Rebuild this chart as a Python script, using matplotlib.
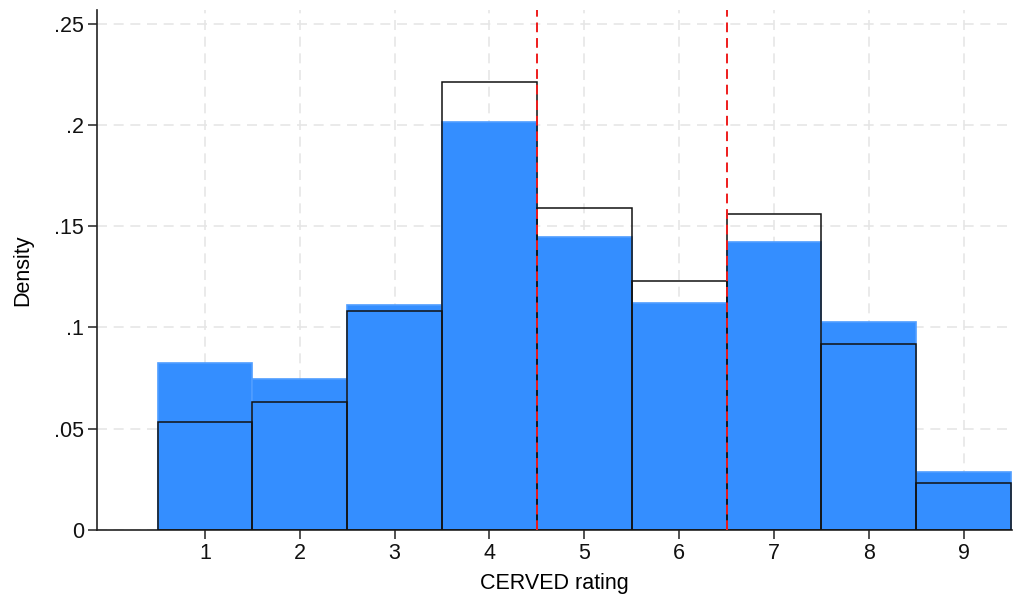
import matplotlib.pyplot as plt
import numpy as np

plt.rcParams["font.family"] = ["Liberation Sans", "DejaVu Sans"]

# --- data ---
ratings = [1, 2, 3, 4, 5, 6, 7, 8, 9]
density_all = [0.0823, 0.0744, 0.1111, 0.2015, 0.1447, 0.1119, 0.1422, 0.1026, 0.0288]
density_sub = [0.0532, 0.0632, 0.1083, 0.2211, 0.1589, 0.1228, 0.1560, 0.0917, 0.0231]
cutoffs = [4.5, 6.5]
yticks = [0, 0.05, 0.1, 0.15, 0.2, 0.25]
ytick_labels = ["0", ".05", ".1", ".15", ".2", ".25"]

# --- figure ---
fig = plt.figure(figsize=(10.15, 6), dpi=100)
ax = fig.add_axes([97 / 1015, 70 / 600, (1012 - 97) / 1015, (530 - 9.5) / 600])

x = np.array(ratings)
ax.bar(x, density_all, width=1.0, color="#348eff", edgecolor="#4f9dff",
       linewidth=1.2, zorder=2)
ax.bar(x, density_sub, width=1.0, facecolor="none", edgecolor="#111111",
       linewidth=1.1, zorder=3)

for c in cutoffs:
    ax.axvline(c, color="#ee1c1c", linestyle=(0, (5, 3)), linewidth=1.4, zorder=4)

ax.set_xlim(-0.138, 9.51)
ax.set_ylim(0, 0.257)
ax.set_xticks(ratings)
ax.set_yticks(yticks)
ax.set_yticklabels(ytick_labels)

ax.grid(True, color="#e6e6e6", linestyle=(0, (6, 4)), linewidth=1.2, zorder=0)
ax.set_axisbelow(True)

for side in ("top", "right"):
    ax.spines[side].set_visible(False)
for side in ("left", "bottom"):
    ax.spines[side].set_color("#222222")
    ax.spines[side].set_linewidth(1.2)

ax.tick_params(axis="both", labelsize=15.5, length=6.5, width=1.2, color="#333333",
               labelcolor="#111111")
ax.tick_params(axis="x", pad=3)
ax.tick_params(axis="y", pad=3)
ax.set_xlabel("CERVED rating", fontsize=15.5, labelpad=6)
ax.set_ylabel("Density", fontsize=15.5, labelpad=15)

fig.savefig("out.png", dpi=100)
